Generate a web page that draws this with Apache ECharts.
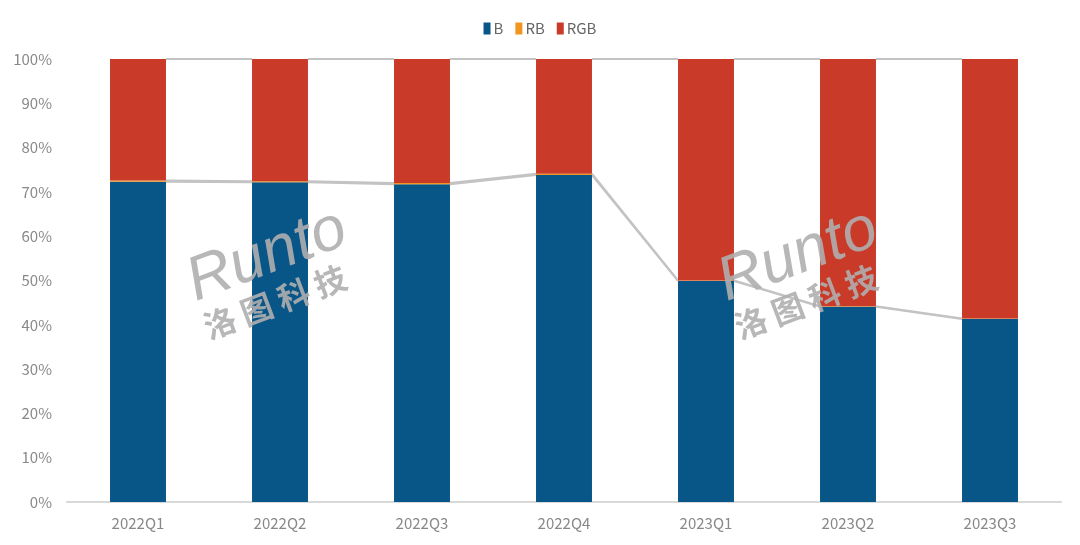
<!DOCTYPE html>
<html>
<head>
<meta charset="utf-8">
<script src="https://cdn.jsdelivr.net/npm/echarts@6/dist/echarts.min.js"></script>
<style>
html,body{margin:0;padding:0;background:#fff;}
#chart{width:1080px;height:545px;}
</style>
</head>
<body>
<div id="chart"></div>
<script>
const categories = ['2022Q1','2022Q2','2022Q3','2022Q4','2023Q1','2023Q2','2023Q3'];
const seriesB   = [72.3, 72.2, 71.7, 73.8, 49.9, 44.1, 41.3];
const seriesRB  = [0.3, 0.2, 0.3, 0.3, 0.1, 0.1, 0.1];
const seriesRGB = seriesB.map((b, i) => +(100 - b - seriesRB[i]).toFixed(2));
const yTicks = [0, 10, 20, 30, 40, 50, 60, 70, 80, 90, 100];

const BAR_RATIO = 0.394;
const font = "'Noto Sans CJK SC', 'Liberation Sans', sans-serif";

// series lines connecting stacked levels between adjacent bars
const levelB = seriesB;
const levelRB = seriesB.map((b, i) => b + seriesRB[i]);
const levelTop = seriesB.map(() => 100);
function pairs(level) {
  const out = [];
  for (let i = 0; i < level.length - 1; i++) out.push([i, level[i], level[i + 1]]);
  return out;
}
function seriesLine(level, name) {
  return {
    type: 'custom',
    name: name,
    silent: true,
    z: 1,
    encode: { x: 0, y: [1, 2] },
    data: pairs(level),
    renderItem: function (params, api) {
      const i = api.value(0);
      const p1 = api.coord([i, api.value(1)]);
      const p2 = api.coord([i + 1, api.value(2)]);
      const half = api.size([1, 0])[0] * BAR_RATIO / 2;
      return {
        type: 'line',
        shape: { x1: p1[0] + half, y1: p1[1], x2: p2[0] - half, y2: p2[1] },
        style: { stroke: '#c3c3c3', lineWidth: 2 }
      };
    }
  };
}

const chart = echarts.init(document.getElementById('chart'));
chart.setOption({
  animation: false,
  backgroundColor: '#fff',
  legend: {
    top: 16,
    left: 'center',
    data: ['B', 'RB', 'RGB'],
    itemWidth: 7,
    itemHeight: 12,
    itemGap: 12,
    icon: 'rect',
    textStyle: { color: '#666', fontSize: 15, fontFamily: font, padding: [0, 0, 0, -2] }
  },
  grid: { left: 67, right: 19, top: 59, bottom: 43, containLabel: false },
  xAxis: {
    type: 'category',
    data: categories,
    axisLine: { lineStyle: { color: '#d9d9d9', width: 2 } },
    axisTick: { show: false },
    axisLabel: { color: '#888', fontSize: 15, fontFamily: font, margin: 14 }
  },
  yAxis: {
    type: 'value',
    min: 0,
    max: 100,
    interval: 10,
    axisLine: { show: false },
    axisTick: { show: false },
    splitLine: { show: false },
    axisLabel: {
      color: '#888', fontSize: 15, fontFamily: font, margin: 15,
      formatter: v => yTicks.includes(v) ? v + '%' : ''
    }
  },
  series: [
    { name: 'B', type: 'bar', stack: 's', data: seriesB, barWidth: (BAR_RATIO * 100) + '%',
      itemStyle: { color: '#075687' }, z: 2 },
    { name: 'RB', type: 'bar', stack: 's', data: seriesRB,
      itemStyle: { color: '#f0961f' }, z: 2 },
    { name: 'RGB', type: 'bar', stack: 's', data: seriesRGB,
      itemStyle: { color: '#c93a28' }, z: 2 },
    seriesLine(levelB, 'lineB'),
    seriesLine(levelRB, 'lineRB'),
    seriesLine(levelTop, 'lineTop')
  ],
  graphic: [
    { type: 'text', x: 267, y: 256, rotation: 0.36, z: 100, silent: true,
      style: { text: 'Runto', font: "italic 62px 'Liberation Sans', sans-serif", fill: 'rgba(175,175,175,0.9)', align: 'center', verticalAlign: 'middle' } },
    { type: 'text', x: 275, y: 302, rotation: 0.36, z: 100, silent: true,
      style: { text: '洛 图 科 技', font: "bold 32px 'Noto Sans CJK SC', sans-serif", fill: 'rgba(175,175,175,0.9)', align: 'center', verticalAlign: 'middle' } },
    { type: 'text', x: 798, y: 256, rotation: 0.36, z: 100, silent: true,
      style: { text: 'Runto', font: "italic 62px 'Liberation Sans', sans-serif", fill: 'rgba(175,175,175,0.9)', align: 'center', verticalAlign: 'middle' } },
    { type: 'text', x: 806, y: 302, rotation: 0.36, z: 100, silent: true,
      style: { text: '洛 图 科 技', font: "bold 32px 'Noto Sans CJK SC', sans-serif", fill: 'rgba(175,175,175,0.9)', align: 'center', verticalAlign: 'middle' } }
  ]
});
</script>
</body>
</html>
